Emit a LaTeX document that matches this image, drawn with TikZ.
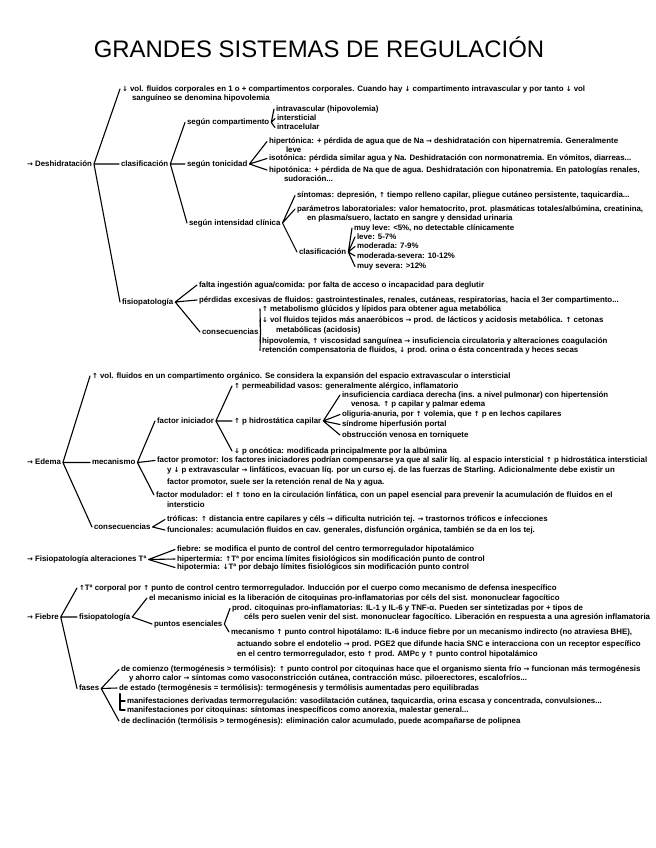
\documentclass[tikz,border=0pt]{standalone}
\usepackage{fontspec}
\newfontfamily\handfont{Liberation Sans}[BoldFont={Liberation Sans Bold}]
\newfontfamily\titlefont{Liberation Sans}
\newfontfamily\arrowfont{DejaVu Sans}
\newcommand\hand{\handfont\bfseries\fontsize{7.9}{8.5}\selectfont}
\newcommand\ua{{\arrowfont\fontsize{7}{8}\selectfont ↑}}
\newcommand\da{{\arrowfont\fontsize{7}{8}\selectfont ↓}}
\newcommand\ra{{\arrowfont\fontsize{7}{8}\selectfont →}}
\tikzstyle{every path}=[line width=1.1pt,line cap=round,line join=round]
\tikzstyle{txt}=[anchor=west,inner sep=1.5pt,font=\hand,text height=6pt,text depth=1.7pt]

\begin{document}
\begin{tikzpicture}[x=1bp,y=-1bp]
\useasboundingbox (0,0) rectangle (656,848);
\node (title) at (319,47) {\titlefont\fontsize{24}{26}\selectfont GRANDES SISTEMAS DE REGULACIÓN};

% Deshidratacion
\node[txt] (D) at (25,164) {\ra\ Deshidratación};
\node[txt] (D1) at (120,89) {\da\ vol. fluidos corporales en 1 o + compartimentos corporales. Cuando hay \da\ compartimento intravascular y por tanto \da\ vol};
\node[txt] (D1b) at (130,98.5) {sanguíneo se denomina hipovolemia};
\node[txt] (Dc) at (119,164) {clasificación}; %% Dc is the classification branch
\node[txt] (Dcc) at (185,122.5) {según compartimento};
\node[txt] (Dcc1) at (274,109) {intravascular (hipovolemia)};
\node[txt] (Dcc2) at (275,118.5) {intersticial};
\node[txt] (Dcc3) at (275,127.5) {intracelular};
\node[txt] (Dct) at (185,164) {según tonicidad};
\node[txt] (Dct1) at (267,141.5) {hipertónica: + pérdida de agua que de Na \ra\ deshidratación con hipernatremia. Generalmente};
\node[txt] (Dct1b) at (284,150) {leve};
\node[txt] (Dct2) at (267,158.5) {isotónica: pérdida similar agua y Na. Deshidratación con normonatremia. En vómitos, diarreas...};
\node[txt] (Dct3) at (267,170) {hipotónica: + pérdida de Na que de agua. Deshidratación con hiponatremia. En patologías renales,};
\node[txt] (Dct3b) at (282,179.5) {sudoración...};
\node[txt] (Dci) at (187,223) {según intensidad clínica};
\node[txt] (Dci1) at (295,195.5) {síntomas: depresión, \ua\ tiempo relleno capilar, pliegue cutáneo persistente, taquicardia...};
\node[txt] (Dci2) at (295,209) {parámetros laboratoriales: valor hematocrito, prot. plasmáticas totales/albúmina, creatinina,};
\node[txt] (Dci2b) at (305,218.5) {en plasma/suero, lactato en sangre y densidad urinaria};
\node[txt] (Dci3) at (297,252) {clasificación};
\node[txt] (Dg1) at (352,228) {muy leve: <5\%, no detectable clínicamente};
\node[txt] (Dg2) at (355,237) {leve: 5-7\%};
\node[txt] (Dg3) at (355,246.5) {moderada: 7-9\%};
\node[txt] (Dg4) at (355,256) {moderada-severa: 10-12\%};
\node[txt] (Dg5) at (355,266.5) {muy severa: >12\%};
\node[txt] (Df) at (120,302) {fisiopatología};
\node[txt] (Df1) at (197,285) {falta ingestión agua/comida: por falta de acceso o incapacidad para deglutir};
\node[txt] (Df2) at (197,300) {pérdidas excesivas de fluidos: gastrointestinales, renales, cutáneas, respiratorias, hacia el 3er compartimento...};
\node[txt] (Dfc) at (200,332) {consecuencias};
\node[txt] (Dfc1) at (260,309) {\ua\ metabolismo glúcidos y lípidos para obtener agua metabólica};
\node[txt] (Dfc2) at (260,320.5) {\da\ vol fluidos tejidos más anaeróbicos \ra\ prod. de lácticos y acidosis metabólica. \ua\ cetonas};
\node[txt] (Dfc2b) at (274,330.5) {metabólicas (acidosis)};
\node[txt] (Dfc3) at (260,341) {hipovolemia, \ua\ viscosidad sanguínea \ra\ insuficiencia circulatoria y alteraciones coagulación};
\node[txt] (Dfc4) at (260,350.5) {retención compensatoria de fluidos, \da\ prod. orina o ésta concentrada y heces secas};

\draw (D.east) -- (D1.west) (D.east) -- (Dc.west) (D.east) -- (Df.west);
\draw (Dc.east) -- (Dcc.west) (Dc.east) -- (Dct.west) (Dc.east) -- (Dci.west);
\draw (Dcc.east) -- (Dcc1.west) (Dcc.east) -- (Dcc2.west) (Dcc.east) -- (Dcc3.west);
\draw (Dct.east) -- (Dct1.west) (Dct.east) -- (Dct2.west) (Dct.east) -- (Dct3.west);
\draw (Dci.east) -- (Dci1.west) (Dci.east) -- (Dci2.west) (Dci.east) -- (Dci3.west);
\draw (Dci3.east) -- (Dg1.west) (Dci3.east) -- (Dg2.west) (Dci3.east) -- (Dg3.west) (Dci3.east) -- (Dg4.west) (Dci3.east) -- (Dg5.west);
\draw (Df.east) -- (Df1.west) (Df.east) -- (Df2.west) (Df.east) -- (Dfc.west);
\draw (Dfc.east) -- (Dfc1.west) (Dfc.east) -- (Dfc2.west) (Dfc.east) -- (Dfc3.west) (Dfc.east) -- (Dfc4.west);

% Edema
\node[txt] (E) at (25,462.5) {\ra\ Edema};
\node[txt] (E1) at (90,376) {\ua\ vol. fluidos en un compartimento orgánico. Se considera la expansión del espacio extravascular o intersticial};
\node[txt] (Em) at (90,462.5) {mecanismo};
\node[txt] (Emi) at (155,421) {factor iniciador};
\node[txt] (Emi1) at (232,386) {\ua\ permeabilidad vasos: generalmente alérgico, inflamatorio};
\node[txt] (Emi2) at (232,421) {\ua\ p hidrostática capilar}; %% Emi2 opens the capillary pressure fan
\node[txt] (Emh1) at (340,395) {insuficiencia cardiaca derecha (ins. a nivel pulmonar) con hipertensión};
\node[txt] (Emh1b) at (349,404.5) {venosa. \ua\ p capilar y palmar edema};
\node[txt] (Emh2) at (340,414.5) {oliguria-anuria, por \ua\ volemia, que \ua\ p en lechos capilares};
\node[txt] (Emh3) at (340,424.5) {síndrome hiperfusión portal};
\node[txt] (Emh4) at (340,435) {obstrucción venosa en torniquete};
\node[txt] (Emi3) at (232,451) {\da\ p oncótica: modificada principalmente por la albúmina};
\node[txt] (Emp) at (155,460.5) {factor promotor: los factores iniciadores podrían compensarse ya que al salir líq. al espacio intersticial \ua\ p hidrostática intersticial};
\node[txt] (Emp2) at (165,470.5) {y \da\ p extravascular \ra\ linfáticos, evacuan líq. por un curso ej. de las fuerzas de Starling. Adicionalmente debe existir un};
\node[txt] (Emp3) at (165,482) {factor promotor, suele ser la retención renal de Na y agua.};
\node[txt] (Emm) at (154,495) {factor modulador: el \ua\ tono en la circulación linfática, con un papel esencial para prevenir la acumulación de fluidos en el};
\node[txt] (Emm2) at (165,505) {intersticio};
\node[txt] (Ec) at (92,527) {consecuencias};
\node[txt] (Ec1) at (165,519.5) {tróficas: \ua\ distancia entre capilares y céls \ra\ dificulta nutrición tej. \ra\ trastornos tróficos e infecciones};
\node[txt] (Ec2) at (165,530) {funcionales: acumulación fluidos en cav. generales, disfunción orgánica, también se da en los tej.};

\draw (E.east) -- (E1.west) (E.east) -- (Em.west) (E.east) -- (Ec.west);
\draw (Em.east) -- (Emi.west) (Em.east) -- (Emp.west) (Em.east) -- (Emm.west);
\draw (Emi.east) -- (Emi1.west) (Emi.east) -- (Emi2.west) (Emi.east) -- (Emi3.west);
\draw (Emi2.east) -- (Emh1.west) (Emi2.east) -- (Emh2.west) (Emi2.east) -- (Emh3.west) (Emi2.east) -- (Emh4.west);
\draw (Ec.east) -- (Ec1.west) (Ec.east) -- (Ec2.west);

% alteraciones de la temperatura
\node[txt] (T) at (25,559.5) {\ra\ Fisiopatología alteraciones Tª};
\node[txt] (T1) at (175,549.5) {fiebre: se modifica el punto de control del centro termorregulador hipotalámico};
\node[txt] (T2) at (175,559) {hipertermia: \ua Tª por encima límites fisiológicos sin modificación punto de control};
\node[txt] (T3) at (175,567.5) {hipotermia: \da Tª por debajo límites fisiológicos sin modificación punto control};
\draw (T.east) -- (T1.west) (T.east) -- (T2.west) (T.east) -- (T3.west);

% Fiebre
\node[txt] (F) at (25,617) {\ra\ Fiebre};
\node[txt] (F1) at (77,588) {\ua Tª corporal por \ua\ punto de control centro termorregulador. Inducción por el cuerpo como mecanismo de defensa inespecífico};
\node[txt] (Ff) at (77,617) {fisiopatología};
\node[txt] (Ff1) at (147,598) {el mecanismo inicial es la liberación de citoquinas pro-inflamatorias por céls del sist. mononuclear fagocítico};
\node[txt] (Ffp) at (152,624) {puntos esenciales};
\node[txt] (Ffp1) at (230,608.5) {prod. citoquinas pro-inflamatorias: IL-1 y IL-6 y TNF-α. Pueden ser sintetizadas por + tipos de};
\node[txt] (Ffp1b) at (242,617.5) {céls pero suelen venir del sist. mononuclear fagocítico. Liberación en respuesta a una agresión inflamatoria};
\node[txt] (Ffp2) at (229,632) {mecanismo \ua\ punto control hipotálamo: IL-6 induce fiebre por un mecanismo indirecto (no atraviesa BHE),};
\node[txt] (Ffp2b) at (235,644) {actuando sobre el endotelio \ra\ prod. PGE2 que difunde hacia SNC e interacciona con un receptor específico};
\node[txt] (Ffp2c) at (235,654.5) {en el centro termorregulador, esto \ua\ prod. AMPc y \ua\ punto control hipotalámico};
\node[txt] (Fs) at (77,688.5) {fases};
\node[txt] (Fs1) at (119,669.5) {de comienzo (termogénesis > termólisis): \ua\ punto control por citoquinas hace que el organismo sienta frío \ra\ funcionan más termogénesis};
\node[txt] (Fs1b) at (127,678) {y ahorro calor \ra\ síntomas como vasoconstricción cutánea, contracción músc. piloerectores, escalofríos...};
\node[txt] (Fs2) at (117,688) {de estado (termogénesis = termólisis): termogénesis y termólisis aumentadas pero equilibradas};
\node[txt] (Fs3) at (125,701) {manifestaciones derivadas termorregulación: vasodilatación cutánea, taquicardia, orina escasa y concentrada, convulsiones...};
\node[txt] (Fs4) at (125,710) {manifestaciones por citoquinas: síntomas inespecíficos como anorexia, malestar general...};
\node[txt] (Fs5) at (119,721) {de declinación (termólisis > termogénesis): eliminación calor acumulado, puede acompañarse de polipnea};

\draw (F.east) -- (F1.west) (F.east) -- (Ff.west) (F.east) -- (Fs.west);
\draw (Ff.east) -- (Ff1.west) (Ff.east) -- (Ffp.west);
\draw (Ffp.east) -- (Ffp1.west) (Ffp.east) -- (Ffp2.west);
\draw (Fs.east) -- (Fs1.west) (Fs.east) -- (Fs2.west) (Fs.east) -- (Fs5.west);
\draw ([xshift=3pt]Fs2.south west) |- (Fs3.west); %% small bracket under "de estado"
\draw ([xshift=3pt]Fs2.south west) |- (Fs4.west);
\end{tikzpicture}
\end{document}
